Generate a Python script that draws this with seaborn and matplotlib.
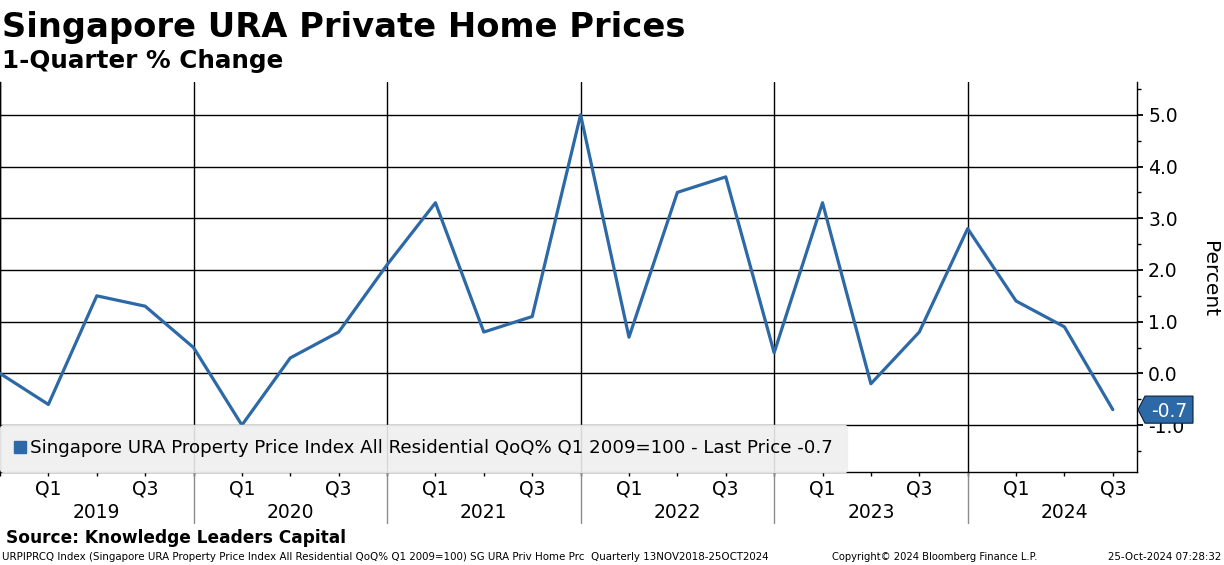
import numpy as np
import pandas as pd
import matplotlib
matplotlib.use("Agg")
import matplotlib.pyplot as plt
import matplotlib.transforms as mtransforms
from matplotlib.lines import Line2D
from matplotlib.patches import Polygon
import seaborn as sns

# ---------------- data ----------------
quarters = ["2018Q4",
            "2019Q1", "2019Q2", "2019Q3", "2019Q4",
            "2020Q1", "2020Q2", "2020Q3", "2020Q4",
            "2021Q1", "2021Q2", "2021Q3", "2021Q4",
            "2022Q1", "2022Q2", "2022Q3", "2022Q4",
            "2023Q1", "2023Q2", "2023Q3", "2023Q4",
            "2024Q1", "2024Q2", "2024Q3"]
values = [0.0,
          -0.6, 1.5, 1.3, 0.5,
          -1.0, 0.3, 0.8, 2.1,
          3.3, 0.8, 1.1, 5.0,
          0.7, 3.5, 3.8, 0.4,
          3.3, -0.2, 0.8, 2.8,
          1.4, 0.9, -0.7]
y_ticks = [-1.0, 0.0, 1.0, 2.0, 3.0, 4.0, 5.0]
series_name = "Singapore URA Property Price Index All Residential QoQ% Q1 2009=100"
title = "Singapore URA Private Home Prices"
subtitle = "1-Quarter % Change"
source = "Source: Knowledge Leaders Capital"
footer_left = ("URPIPRCQ Index (Singapore URA Property Price Index All Residential QoQ% Q1 2009=100) "
               "SG URA Priv Home Prc  Quarterly 13NOV2018-25OCT2024")
footer_mid = "Copyright\u00a9 2024 Bloomberg Finance L.P."
footer_right = "25-Oct-2024 07:28:32"

df = pd.DataFrame({"quarter": quarters, "value": values})
df["pos"] = np.arange(len(df))
df["year"] = df["quarter"].str[:4]
df["q"] = df["quarter"].str[4:]

# ---------------- style ----------------
sns.set_style("ticks")
plt.rcParams["font.family"] = ["DejaVu Sans"]
plt.rcParams["text.color"] = "black"
plt.rcParams["axes.labelcolor"] = "black"
plt.rcParams["xtick.color"] = "black"
plt.rcParams["ytick.color"] = "black"
LINE = "#2c69a6"

W, H = 1224, 565
fig = plt.figure(figsize=(W / 100, H / 100), dpi=100)
ax_left, ax_right, ax_top, ax_bot = 0, 1137, 81.7, 471.7
ax = fig.add_axes([ax_left / W, 1 - ax_bot / H, (ax_right - ax_left) / W, (ax_bot - ax_top) / H])

sns.lineplot(data=df, x="pos", y="value", ax=ax, color=LINE, linewidth=2.3, zorder=3)

ax.set_xlim(0.03, 23.5)
ax.set_ylim(-1.90, 5.64)

# grid
for yv in y_ticks:
    ax.axhline(yv, color="black", lw=1.0, zorder=1)
year_starts = df.loc[df["q"] == "Q4", "pos"].tolist()
for xv in year_starts:
    ax.axvline(xv, color="black", lw=1.0, zorder=1)

# spines
for s in ["left", "bottom", "right"]:
    ax.spines[s].set_visible(True)
    ax.spines[s].set_color("black")
    ax.spines[s].set_linewidth(1.0)
ax.spines["top"].set_visible(False)

# y axis on right
ax.yaxis.tick_right()
ax.set_yticks(y_ticks)
ax.set_yticklabels([f"{v:.1f}" for v in y_ticks])
ax.set_yticks(np.arange(-1.5, 5.6, 1.0), minor=True)
ax.tick_params(axis="y", which="major", direction="out", length=4, width=1.3,
               pad=4, labelsize=13.5, colors="black", right=True, left=False)
ax.tick_params(axis="y", which="minor", direction="out", length=3, width=1,
               right=True, left=False, colors="black")
ax.set_ylabel("")
ax.set_xlabel("")

# x axis quarter ticks
ax.set_xticks(df["pos"].tolist())
ax.set_xticklabels([q if q in ("Q1", "Q3") else "" for q in df["q"]])
ax.tick_params(axis="x", which="major", direction="out", length=3, width=1,
               pad=2.5, labelsize=13.5, colors="black")

# year labels & separators below axis
trans = mtransforms.blended_transform_factory(ax.transData, ax.transAxes)
axh = ax_bot - ax_top
for yr in sorted(df["year"].unique()):
    sub = df[(df["year"] == yr) & (df["q"] == "Q2")]
    if len(sub):
        ax.text(sub["pos"].iloc[0], -(518 - ax_bot) / axh, yr, transform=trans,
                ha="center", va="baseline", fontsize=13.5, color="black")
for xv in year_starts:
    if xv > 0:
        ax.add_line(Line2D([xv, xv], [0, -(523 - ax_bot) / axh], transform=trans,
                           color="#8c8c8c", lw=1.0, clip_on=False))

# right-hand label
fig.text(1209 / W, 1 - 279 / H, "Percent", rotation=270, ha="center", va="center",
         fontsize=14.5, color="black")

# last value tag
last = values[-1]
tb = mtransforms.blended_transform_factory(ax.transAxes, ax.transData)
aw = ax_right - ax_left
hh = 0.262
tag = Polygon([[1138 / aw, last], [1145 / aw, last + hh], [1193 / aw, last + hh],
               [1193 / aw, last - hh], [1145 / aw, last - hh]], closed=True,
              transform=tb, facecolor=LINE, edgecolor="#0d2036", lw=0.8,
              clip_on=False, zorder=10)
ax.add_patch(tag)
ax.text(1169 / aw, last, f"{last:.1f}", transform=tb, ha="center", va="center_baseline",
        color="white", fontsize=13.5, zorder=11, clip_on=False)

# titles
def fit(t, width_px):
    r = fig.canvas.get_renderer()
    w = t.get_window_extent(r).width
    t.set_fontsize(t.get_fontsize() * width_px / w)

t1 = fig.text(2 / W, 1 - 36.7 / H, title, fontsize=24, fontweight="bold", va="baseline", ha="left", color="black")
t2 = fig.text(2 / W, 1 - 68.3 / H, subtitle, fontsize=17, fontweight="bold", va="baseline", ha="left", color="black")
t3 = fig.text(6 / W, 1 - 542.7 / H, source, fontsize=12.5, fontweight="bold", va="baseline", ha="left", color="black")
f1 = fig.text(2 / W, 1 - 559.5 / H, footer_left, fontsize=7.5, va="baseline", ha="left", color="black")
f2 = fig.text(832 / W, 1 - 559.5 / H, footer_mid, fontsize=7.5, va="baseline", ha="left", color="black")
f3 = fig.text(1221 / W, 1 - 559.5 / H, footer_right, fontsize=7.5, va="baseline", ha="right", color="black")
fig.canvas.draw()
fit(t1, 684); fit(t2, 281); fit(t3, 340); fit(f1, 761); fit(f2, 207); fit(f3, 114)

# legend
handle = Line2D([], [], marker="s", linestyle="none", markersize=8.6, color=LINE)
label = f"{series_name} - Last Price {last:.1f}"

def make_legend(fs):
    return ax.legend([handle], [label], loc="lower left", bbox_to_anchor=(0, 0),
                     borderaxespad=0, frameon=True, fancybox=True, facecolor="#efefef",
                     edgecolor="#efefef", framealpha=0.9, prop={"size": fs},
                     handlelength=0.6, handletextpad=0.28, borderpad=0.78,
                     labelcolor="black")

leg = make_legend(13)
fig.canvas.draw()
tw = leg.get_texts()[0].get_window_extent(fig.canvas.get_renderer()).width
leg.remove()
leg = make_legend(13 * 803 / tw)
leg.set_zorder(5)

fig.savefig("out.png", dpi=100)
